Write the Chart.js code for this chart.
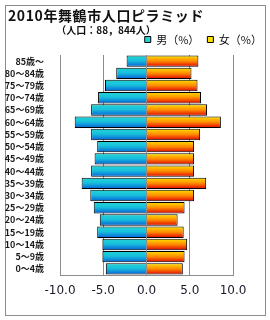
<!DOCTYPE html>
<html>
<head>
<meta charset="utf-8">
<script src="https://cdn.jsdelivr.net/npm/chart.js@4"></script>
<style>
  html, body { margin: 0; padding: 0; background: #fff; }
  #wrap { position: relative; width: 270px; height: 320px; }
  #frame { position: absolute; left: 5px; top: 5px; width: 259px; height: 309px; border: 1px solid #8c8c8c; }
  #title { position: absolute; left: 6px; top: 7px; width: 200px; text-align: center;
           font: bold 14px "Noto Sans CJK JP", sans-serif; letter-spacing: 0.6px; color: #111; line-height: 16px; }
  #sub { position: absolute; left: 5px; top: 24px; width: 202px; text-align: center;
         font: bold 10px "Noto Sans CJK JP", sans-serif; color: #111; line-height: 12px; }
  canvas { position: absolute; left: 0; top: 0; }
</style>
</head>
<body>
<div id="wrap">
  <div id="frame"></div>
  <canvas id="pyramid" width="270" height="320"></canvas>
  <div id="title">2010年舞鶴市人口ピラミッド</div>
  <div id="sub">（人口：88，844人）</div>
</div>
<script>
// ==============================
// Data (youngest -> oldest)
// ==============================
const ageGroups = ["0～4歳","5～9歳","10～14歳","15～19歳","20～24歳","25～29歳","30～34歳","35～39歳","40～44歳",
                   "45～49歳","50～54歳","55～59歳","60～64歳","65～69歳","70～74歳","75～79歳","80～84歳","85歳～"];
const malePct   = [4.7, 5.1, 5.1, 5.7, 5.4, 6.1, 6.5, 7.5, 6.4, 6.0, 5.7, 6.4, 8.3, 6.4, 5.6, 4.8, 3.5, 2.3];
const femalePct = [4.2, 4.4, 4.7, 4.3, 3.6, 4.4, 5.5, 6.9, 5.5, 5.5, 5.5, 6.2, 8.6, 7.0, 6.3, 5.9, 5.2, 6.0];
const xTicks = [-10, -5, 0, 5, 10];

// ==============================
// Bar gradients (vertical, per bar)
// ==============================
const maleStops = [[0, "#22d4d4"], [0.45, "#18c0dc"], [1, "#0560d8"]];
const femaleStops = [[0, "#ffe000"], [0.5, "#ff8a00"], [1, "#e00000"]];

function barGradient(stops, fallback) {
  return (c) => {
    const chart = c.chart;
    const y = chart.scales && chart.scales.y;
    if (c.dataIndex === undefined || !y || !chart.chartArea) return fallback;
    const center = y.getPixelForValue(c.dataIndex);
    const half = (chart.chartArea.height / ageGroups.length) * 0.93 / 2;
    const g = chart.ctx.createLinearGradient(0, center - half, 0, center + half);
    stops.forEach(s => g.addColorStop(s[0], s[1]));
    return g;
  };
}

const gridColor = "#8c8c8c";

new Chart(document.getElementById("pyramid"), {
  type: "bar",
  data: {
    labels: ageGroups,
    datasets: [
      { label: "男（%）", data: malePct.map(v => -v), backgroundColor: barGradient(maleStops, "#12a8d8"),
        borderColor: "#000", borderWidth: 1, barPercentage: 0.93, categoryPercentage: 1 },
      { label: "女（%）", data: femalePct, backgroundColor: barGradient(femaleStops, "#ff8a00"),
        borderColor: "#000", borderWidth: 1, barPercentage: 0.93, categoryPercentage: 1 }
    ]
  },
  options: {
    indexAxis: "y",
    responsive: false,
    animation: false,
    layout: { padding: { top: 26, right: 0, left: 0, bottom: 0 } },
    plugins: {
      tooltip: { enabled: false },
      legend: {
        position: "top", align: "end",
        labels: { boxWidth: 6, boxHeight: 6, padding: 8, color: "#111",
                  font: { size: 11, family: "'Noto Sans CJK JP', sans-serif" } }
      }
    },
    scales: {
      x: {
        stacked: true, min: -10, max: 10,
        afterBuildTicks: (s) => { s.ticks = xTicks.map(v => ({ value: v })); },
        afterFit: (s) => { s.height = 45; },
        ticks: { color: "#1a1a2a", padding: 9, font: { size: 12, family: "'DejaVu Sans', sans-serif" },
                 callback: (v) => Number(v).toFixed(1) },
        grid: { color: gridColor, lineWidth: 1, drawTicks: false },
        border: { color: gridColor }
      },
      y: {
        stacked: true, reverse: true,
        afterFit: (s) => { s.width = 60; },
        ticks: { color: "#1a1a1a", padding: 8, autoSkip: false,
                 font: { size: 9, weight: "bold", family: "'Noto Sans CJK JP', sans-serif" } },
        grid: { display: false },
        border: { color: gridColor }
      },
      // empty right-hand spacer so the plot ends at 10.0 while the legend reaches the frame
      spacer: {
        type: "category", labels: ageGroups, position: "right", axis: "y",
        afterFit: (s) => { s.width = 37; },
        ticks: { display: false }, grid: { display: false }, border: { display: false }
      }
    }
  }
});
</script>
</body>
</html>
